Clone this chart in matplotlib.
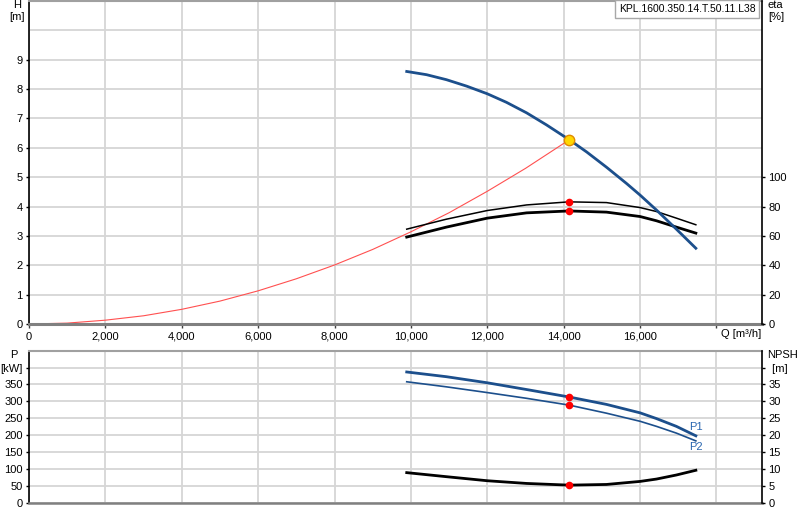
import numpy as np
import matplotlib.pyplot as plt

plt.rcParams['font.family'] = ['Liberation Sans', 'DejaVu Sans']
plt.rcParams['font.size'] = 8

# system curve (red)
q_sys = [0, 1000, 2000, 3000, 4000, 5000, 6000, 7000, 8000, 9000, 10000,
         11000, 12000, 13000, 14000, 14140]
h_sys = [0, 0.03, 0.13, 0.28, 0.50, 0.78, 1.13, 1.54, 2.01, 2.54, 3.14,
         3.79, 4.52, 5.30, 6.15, 6.27]

# pump head curve
q_h = [9890, 10410, 10930, 11460, 12000, 12500, 13030, 13550, 14140,
       14600, 15120, 15650, 16000, 16430, 16950, 17460]
h_pump = [8.60, 8.49, 8.32, 8.10, 7.84, 7.55, 7.19, 6.78, 6.28,
          5.86, 5.34, 4.78, 4.39, 3.88, 3.23, 2.58]

# efficiency, power and NPSH curves
q = [9890, 10930, 12000, 13030, 14140, 15120, 16000, 16430, 16950, 17460]
eta_hyd = [64.6, 71.4, 77.3, 81.1, 83.2, 82.7, 79.3, 76.6, 72.1, 67.6]
eta_tot = [59.2, 66.0, 72.1, 75.7, 77.0, 76.2, 73.2, 70.3, 66.0, 61.9]
p1 = [387, 373, 355, 335, 313, 291, 266, 249, 226, 198]
p2 = [358, 343, 326, 309, 289, 265, 241, 226, 206, 183]
npsh = [8.9, 7.7, 6.5, 5.7, 5.2, 5.4, 6.3, 7.0, 8.2, 9.6]
op = 4  # index of duty point in q
op_h = 8  # index of duty point in q_h

x_ticks = np.arange(0, 18001, 2000)
x_labels = ['0'] + ['{:,}'.format(v) for v in x_ticks[1:-1]] + ['']

blue = '#1c4f8c'
grid_c = '#d6d6d6'

fig = plt.figure(figsize=(8, 5.2), dpi=100)
ax1 = fig.add_axes([29 / 800, 1 - 324 / 520, 733.3 / 800, 323 / 520])
ax1r = ax1.twinx()
ax2 = fig.add_axes([29 / 800, 1 - 502.7 / 520, 733.3 / 800, 152 / 520])
ax2r = ax2.twinx()

# ---- top panel
ax1.set_xlim(0, 19200)
ax1.set_ylim(0, 11)
ax1r.set_ylim(0, 220)
ax1.set_xticks(x_ticks)
ax1.set_xticklabels(x_labels)
ax1.set_yticks(range(0, 10))
ax1.set_yticks([10], minor=True)
ax1r.set_yticks(range(0, 101, 20))
ax1.grid(True, which='both', color=grid_c, lw=1.3, zorder=0)
ax1.set_axisbelow(True)

ax1.plot(q_sys, h_sys, color='#ff5050', lw=0.8, zorder=2)
ax1.plot(q, eta_hyd, color='black', lw=1.1, transform=ax1r.transData, zorder=3)
ax1.plot(q, eta_tot, color='black', lw=2.0, transform=ax1r.transData, zorder=3)
ax1.plot(q_h, h_pump, color=blue, lw=2.0, zorder=4)
ax1.plot([q[op], q[op]], [eta_hyd[op], eta_tot[op]], 'o', color='red', ms=5.5,
         mec='none', transform=ax1r.transData, zorder=5)
ax1.plot(q_h[op_h], h_pump[op_h], 'o', mfc='#ffd700', mec='#e08a00', mew=1, ms=7.5, zorder=6)

ax1.text((720.7 - 29) / 733.3, -0.031, 'Q [m³/h]', transform=ax1.transAxes,
         ha='left', va='center')

# ---- bottom panel
ax2.set_xlim(0, 19200)
ax2.set_ylim(0, 450)
ax2r.set_ylim(0, 45)
ax2.set_xticks(x_ticks)
ax2.set_xticklabels([])
ax2.set_yticks(range(0, 401, 50))
ax2.set_yticklabels([str(v) for v in range(0, 351, 50)] + ['[kW]'])
ax2r.set_yticks(range(0, 41, 5))
ax2r.set_yticklabels([str(v) for v in range(0, 36, 5)] + [' [m]'])
ax2.grid(True, color=grid_c, lw=1.3, zorder=0)
ax2.set_axisbelow(True)

ax2.plot(q, p2, color=blue, lw=1.2, zorder=3)
ax2.plot(q, p1, color=blue, lw=2.0, zorder=3)
ax2.plot(q, npsh, color='black', lw=2.0, transform=ax2r.transData, zorder=3)
ax2.plot([q[op], q[op]], [p1[op], p2[op]], 'o', color='red', ms=5.5, mec='none', zorder=5)
ax2.plot(q[op], npsh[op], 'o', color='red', ms=5.5, mec='none',
         transform=ax2r.transData, zorder=5)
ax2.text(q[-1], p1[-1] + 25, 'P1', color='#2a66b0', ha='center', va='center')
ax2.text(q[-1], p2[-1] - 18, 'P2', color='#2a66b0', ha='center', va='center')

# ---- axes styling
for a in (ax1, ax2):
    a.spines['left'].set_color('black')
    a.spines['left'].set_linewidth(1.2)
    a.spines['bottom'].set_color('#808080')
    a.spines['top'].set_color('#a0a0a0')
    a.spines['right'].set_visible(False)
    a.tick_params(axis='y', which='major', length=2.5, width=1, pad=2)
    a.tick_params(axis='y', which='minor', length=0)
ax1.spines['bottom'].set_linewidth(2.2)
ax1.spines['top'].set_linewidth(1.5)
ax2.spines['bottom'].set_linewidth(1.8)
ax2.spines['top'].set_linewidth(1.5)
ax1.tick_params(axis='x', length=3, width=1, pad=2.5, color='#404040')
ax2.tick_params(axis='x', length=0)
for a in (ax1r, ax2r):
    for s in ('left', 'top', 'bottom'):
        a.spines[s].set_visible(False)
    a.spines['right'].set_color('black')
    a.spines['right'].set_linewidth(1.2)
    a.tick_params(axis='y', length=2.5, width=1, pad=2)

# ---- axis titles
fig.text(17 / 800, 1 - 5.5 / 520, 'H', ha='center', va='center')
fig.text(17 / 800, 1 - 17 / 520, '[m]', ha='center', va='center')
fig.text(14 / 800, 1 - 355.5 / 520, 'P', ha='center', va='center')
fig.text(768 / 800, 1 - 5 / 520, 'eta', ha='left', va='center')
fig.text(768 / 800, 1 - 17 / 520, '[%]', ha='left', va='center')
fig.text(767 / 800, 1 - 355.5 / 520, 'NPSH', ha='left', va='center')

fig.text(619 / 800, 1 - 9 / 520, 'KPL.1600.350.14.T.50.11.L38', ha='left', va='center',
         fontsize=7.5,
         bbox=dict(boxstyle='square,pad=0.35', fc='white', ec='#a8a8a8', lw=1))

fig.savefig('out.png', dpi=100)
